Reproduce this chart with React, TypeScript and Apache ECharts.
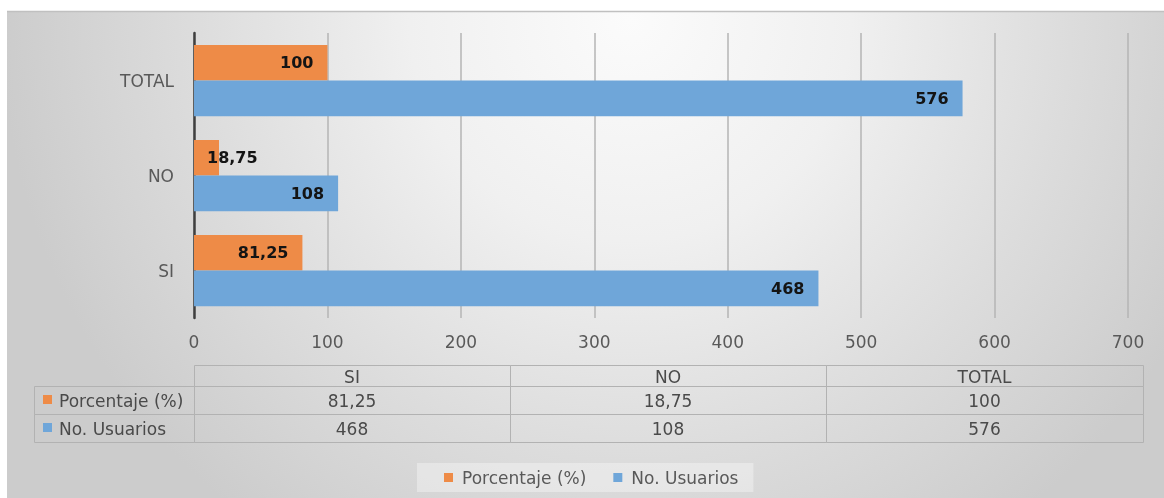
import React, { useEffect, useRef } from "react";
import * as echarts from "echarts";

const categories = ["SI", "NO", "TOTAL"];
const seriesNames = ["Porcentaje (%)", "No. Usuarios"];
const porcentaje = [81.25, 18.75, 100];
const usuarios = [468, 108, 576];
const seriesColors = ["#ee8b47", "#6fa6d9"];
const xMin = 0;
const xMax = 700;
const xStep = 100;

const fmt = (v: number) => String(v).replace(".", ",");
const FONT = "DejaVu Sans";

export default function App() {
  const ref = useRef<HTMLDivElement>(null);
  useEffect(() => {
    if (!ref.current) return;
    const chart = echarts.init(ref.current, null, { renderer: "svg" });

    // table layout
    const tLeft = 34;
    const colEdges = [194, 510, 826, 1143];
    const headTop = 365;
    const rowEdges = [386, 414, 442];
    const tableColor = "#b2b2b2";
    const textColor = "#4a4a4a";
    const rowsData = [porcentaje, usuarios];

    const graphics: any[] = [];
    graphics.push({
      type: "rect",
      z: -100,
      silent: true,
      shape: { x: 7, y: 11, width: 1157, height: 487 },
      style: {
        fill: new echarts.graphic.RadialGradient(
          630,
          20,
          630,
          [
            { offset: 0, color: "#fbfbfb" },
            { offset: 0.35, color: "#f0f0f0" },
            { offset: 0.7, color: "#dcdcdc" },
            { offset: 1, color: "#cccccc" },
          ],
          true
        ),
      },
    });
    graphics.push({
      type: "line",
      z: -99,
      silent: true,
      shape: { x1: 7, y1: 11.5, x2: 1164, y2: 11.5 },
      style: { stroke: "#c0c0c0", lineWidth: 1.5 },
    });
    // header cells
    categories.forEach((c, i) => {
      graphics.push({
        type: "rect",
        silent: true,
        shape: { x: colEdges[i] + 0.5, y: headTop + 0.5, width: colEdges[i + 1] - colEdges[i], height: rowEdges[0] - headTop },
        style: { fill: "transparent", stroke: tableColor, lineWidth: 1 },
      });
      graphics.push({
        type: "text",
        silent: true,
        x: (colEdges[i] + colEdges[i + 1]) / 2,
        y: (headTop + rowEdges[0]) / 2 + 1,
        style: { text: c, font: `17px "${FONT}"`, fill: textColor, align: "center", verticalAlign: "middle" },
      });
    });
    rowsData.forEach((row, r) => {
      const y0 = rowEdges[r];
      const y1 = rowEdges[r + 1];
      const edges = [tLeft, ...colEdges];
      for (let k = 0; k < edges.length - 1; k++) {
        graphics.push({
          type: "rect",
          silent: true,
          shape: { x: edges[k] + 0.5, y: y0 + 0.5, width: edges[k + 1] - edges[k], height: y1 - y0 },
          style: { fill: "transparent", stroke: tableColor, lineWidth: 1 },
        });
      }
      graphics.push({
        type: "rect",
        silent: true,
        shape: { x: tLeft + 9, y: (y0 + y1) / 2 - 5, width: 9, height: 9 },
        style: { fill: seriesColors[r] },
      });
      graphics.push({
        type: "text",
        silent: true,
        x: tLeft + 25,
        y: (y0 + y1) / 2 + 1,
        style: { text: seriesNames[r], font: `17px "${FONT}"`, fill: textColor, align: "left", verticalAlign: "middle" },
      });
      row.forEach((v, i) => {
        graphics.push({
          type: "text",
          silent: true,
          x: (colEdges[i] + colEdges[i + 1]) / 2,
          y: (y0 + y1) / 2 + 1,
          style: { text: fmt(v), font: `17px "${FONT}"`, fill: textColor, align: "center", verticalAlign: "middle" },
        });
      });
    });

    const barLabel = {
      show: true,
      position: "insideRight",
      distance: 14,
      color: "#141414",
      fontFamily: FONT,
      fontWeight: "bold",
      fontSize: 16,
      formatter: (p: any) => fmt(p.value),
    };

    chart.setOption({
      animation: false,
      graphic: { elements: graphics },
      textStyle: { fontFamily: FONT },
      grid: { left: 194, right: 36, top: 33, bottom: 180, containLabel: false },
      legend: {
        data: seriesNames,
        left: 417,
        top: 463,
        icon: "rect",
        itemWidth: 9,
        itemHeight: 9,
        itemGap: 27,
        padding: [6, 15, 6, 27],
        backgroundColor: "rgba(255,255,255,0.35)",
        textStyle: { fontFamily: FONT, fontSize: 17, color: "#595959", padding: [0, 0, 0, 4] },
      },
      xAxis: {
        type: "value",
        min: xMin,
        max: xMax,
        interval: xStep,
        axisLine: { show: false },
        axisTick: { show: false },
        axisLabel: { color: "#595959", fontSize: 17, fontFamily: FONT, margin: 15 },
        splitLine: { show: true, lineStyle: { color: "#b5b5b5", width: 1.5 } },
      },
      yAxis: {
        type: "category",
        data: categories,
        axisLine: { show: true, lineStyle: { color: "#3f3f3f", width: 2.5 } },
        axisTick: { show: false },
        axisLabel: { color: "#595959", fontSize: 17, fontFamily: FONT, margin: 20 },
        splitLine: { show: false },
      },
      series: [
        {
          name: seriesNames[0],
          type: "bar",
          barGap: "0%",
          barCategoryGap: "25%",
          itemStyle: { color: seriesColors[0] },
          label: barLabel,
          data: porcentaje.map((v) =>
            v < 50 ? { value: v, label: { position: "insideLeft", distance: 13 } } : v
          ),
        },
        {
          name: seriesNames[1],
          type: "bar",
          barGap: "0%",
          barCategoryGap: "25%",
          itemStyle: { color: seriesColors[1] },
          label: barLabel,
          data: usuarios,
        },
      ],
    });
    return () => chart.dispose();
  }, []);
  return (
    <div
      ref={ref}
      style={{ position: "fixed", left: 0, top: 0, width: 1164, height: 498 }}
    />
  );
}
